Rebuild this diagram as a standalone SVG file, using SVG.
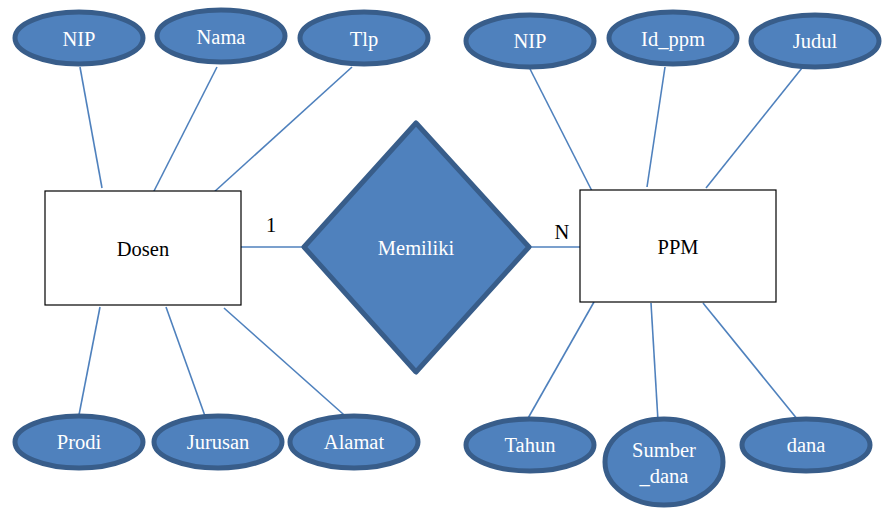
<svg xmlns="http://www.w3.org/2000/svg" width="883" height="508" viewBox="0 0 883 508">
<style>
.attr{fill:#4F81BD;stroke:#385D8A;stroke-width:5}
.ent{fill:#fff;stroke:#000;stroke-width:1.2}
.ln{stroke:#4F81BD;stroke-width:1.6;fill:none}
text{font-family:"Liberation Serif","DejaVu Serif",serif;font-size:20.5px;text-anchor:middle;dominant-baseline:central}
.w{fill:#fff}
.b{fill:#000}
</style>
<rect width="883" height="508" fill="#fff"/>
<g id="connectors">
<line class="ln" x1="80" y1="67" x2="102" y2="188"/>
<line class="ln" x1="217" y1="67" x2="153" y2="193"/>
<line class="ln" x1="352" y1="67" x2="213" y2="193"/>
<line class="ln" x1="100" y1="307" x2="78" y2="420"/>
<line class="ln" x1="166" y1="307" x2="210" y2="430"/>
<line class="ln" x1="224" y1="308" x2="352" y2="422"/>
<line class="ln" x1="530" y1="69" x2="593" y2="193"/>
<line class="ln" x1="665" y1="67" x2="647" y2="187"/>
<line class="ln" x1="802" y1="68" x2="706" y2="188"/>
<line class="ln" x1="594" y1="302" x2="527" y2="420"/>
<line class="ln" x1="651" y1="303" x2="658" y2="421"/>
<line class="ln" x1="703" y1="303" x2="798" y2="420"/>
<line class="ln" x1="241" y1="247" x2="306" y2="247"/>
<line class="ln" x1="527" y1="247" x2="580" y2="247"/>
</g>
<g id="dosen"><rect class="ent" x="45" y="191" width="196" height="114"/><text class="b" x="143" y="249">Dosen</text></g>
<g id="ppm"><rect class="ent" x="580" y="190" width="196" height="112"/><text class="b" x="678" y="247">PPM</text></g>
<g id="memiliki"><polygon class="attr" points="416,123 529,247 416,372 304,247" stroke-linejoin="round"/><text class="w" x="416" y="248">Memiliki</text></g>
<g id="card1"><text class="b" x="271" y="225">1</text></g>
<g id="cardN"><text class="b" x="562" y="232">N</text></g>
<g id="d-nip"><ellipse class="attr" cx="79" cy="38" rx="64" ry="26"/><text class="w" x="79" y="39">NIP</text></g>
<g id="d-nama"><ellipse class="attr" cx="221" cy="36" rx="64" ry="26"/><text class="w" x="221" y="37">Nama</text></g>
<g id="d-tlp"><ellipse class="attr" cx="364" cy="38" rx="64" ry="26"/><text class="w" x="364" y="39">Tlp</text></g>
<g id="d-prodi"><ellipse class="attr" cx="79" cy="442" rx="64" ry="26"/><text class="w" x="79" y="442">Prodi</text></g>
<g id="d-jurusan"><ellipse class="attr" cx="218" cy="442" rx="64" ry="26"/><text class="w" x="218" y="442">Jurusan</text></g>
<g id="d-alamat"><ellipse class="attr" cx="354" cy="442" rx="64" ry="26"/><text class="w" x="354" y="442">Alamat</text></g>
<g id="p-nip"><ellipse class="attr" cx="530" cy="41" rx="64" ry="26"/><text class="w" x="530" y="41">NIP</text></g>
<g id="p-idppm"><ellipse class="attr" cx="673" cy="38" rx="64" ry="26"/><text class="w" x="673" y="39">Id_ppm</text></g>
<g id="p-judul"><ellipse class="attr" cx="815" cy="41" rx="64" ry="26"/><text class="w" x="815" y="41">Judul</text></g>
<g id="p-tahun"><ellipse class="attr" cx="530" cy="445" rx="64" ry="26"/><text class="w" x="530" y="445">Tahun</text></g>
<g id="p-sumber"><ellipse class="attr" cx="664" cy="462" rx="59" ry="43"/><text class="w" x="664" y="450">Sumber</text><text class="w" x="664" y="476">_dana</text></g>
<g id="p-dana"><ellipse class="attr" cx="806" cy="445" rx="64" ry="26"/><text class="w" x="806" y="445">dana</text></g>
</svg>
